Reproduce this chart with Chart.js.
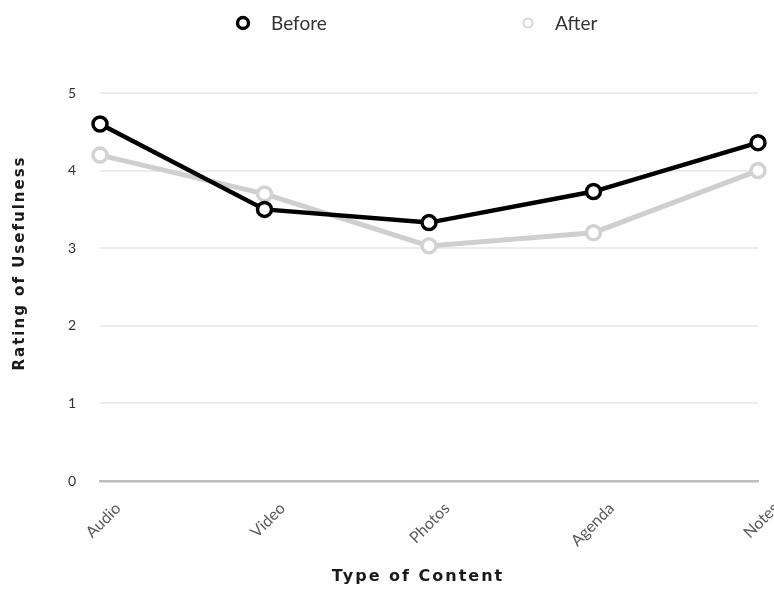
<!DOCTYPE html>
<html>
<head>
<meta charset="utf-8">
<script src="https://cdn.jsdelivr.net/npm/chart.js@4.4.1/dist/chart.umd.min.js"></script>
<style>
  html, body { margin: 0; padding: 0; background: #fff; overflow: hidden; }
  #wrap { width: 774px; height: 590px; position: relative; }
</style>
</head>
<body>
<div id="wrap"><canvas id="chart"></canvas></div>
<script>
// Ratings per content type, before and after
const categories = ['Audio', 'Video', 'Photos', 'Agenda', 'Notes'];
const beforeValues = [4.6, 3.5, 3.33, 3.73, 4.36];
const afterValues = [4.2, 3.7, 3.03, 3.2, 4.0];
const seriesNames = ['Before', 'After'];
const yTickValues = [0, 1, 2, 3, 4, 5];
const xAxisTitle = 'Type of Content';
const yAxisTitle = 'Rating of Usefulness';

const FONT = 'Lato, "DejaVu Sans", sans-serif';
const TITLE_FONT = '"DejaVu Sans", sans-serif';

// Legend row across the top and the two axis titles
const decorations = {
  id: 'decorations',
  afterDraw(chart) {
    const ctx = chart.ctx;
    const legendSpots = [
      { cx: 243, tx: 271, r: 5.5, w: 3.4 },
      { cx: 528, tx: 555, r: 4.5, w: 2.2 }
    ];
    chart.data.datasets.forEach((ds, i) => {
      const s = legendSpots[i];
      ctx.save();
      ctx.beginPath();
      ctx.arc(s.cx, 23, s.r, 0, Math.PI * 2);
      ctx.fillStyle = '#fff';
      ctx.fill();
      ctx.lineWidth = s.w;
      ctx.strokeStyle = i === 0 ? ds.borderColor : '#d8d8d8';
      ctx.stroke();
      ctx.font = '19px ' + FONT;
      ctx.fillStyle = '#333';
      ctx.textBaseline = 'middle';
      ctx.textAlign = 'left';
      ctx.fillText(ds.label, s.tx, 24);
      ctx.restore();
    });

    ctx.save();
    ctx.fillStyle = '#1a1a1a';
    ctx.textAlign = 'center';
    ctx.textBaseline = 'middle';
    ctx.letterSpacing = '2px';
    ctx.font = 'bold 16px ' + TITLE_FONT;
    ctx.fillText(xAxisTitle, 418, 577);
    ctx.translate(20, 263);
    ctx.rotate(-Math.PI / 2);
    ctx.font = 'bold 15px ' + TITLE_FONT;
    ctx.letterSpacing = '2px';
    ctx.fillText(yAxisTitle, 0, 0);
    ctx.restore();
  }
};

new Chart(document.getElementById('chart'), {
  type: 'line',
  data: {
    labels: categories,
    datasets: [
      {
        label: seriesNames[0],
        data: beforeValues,
        borderColor: '#000',
        backgroundColor: '#fff',
        borderWidth: 4.5,
        pointRadius: 7,
        pointBorderWidth: 3.5,
        pointBackgroundColor: '#fff',
        pointBorderColor: '#000',
        tension: 0
      },
      {
        label: seriesNames[1],
        data: afterValues,
        borderColor: '#cfcfcf',
        backgroundColor: '#fff',
        borderWidth: 5,
        pointRadius: 7,
        pointBorderWidth: 3.5,
        pointBackgroundColor: '#fff',
        pointBorderColor: '#d2d2d2',
        tension: 0
      }
    ]
  },
  options: {
    responsive: true,
    maintainAspectRatio: false,
    animation: false,
    layout: { padding: { top: 93, right: 16, bottom: 0, left: 0 } },
    plugins: {
      legend: { display: false },
      tooltip: { enabled: false }
    },
    scales: {
      x: {
        offset: false,
        grid: { display: false, drawTicks: false },
        border: { color: '#bdbdbd', width: 2.5 },
        ticks: {
          maxRotation: 45,
          minRotation: 45,
          labelOffset: 18,
          padding: 18,
          color: '#5a5a5a',
          font: { family: FONT, size: 16 }
        },
        afterFit(scale) {
          // labels may run past the right edge; keep the plot width fixed
          scale.height = 109;
          scale.paddingLeft = 0;
          scale.paddingRight = 0;
        }
      },
      y: {
        min: 0,
        max: 5,
        afterBuildTicks(scale) { scale.ticks = yTickValues.map(v => ({ value: v })); },
        grid: {
          color: '#ececec',
          lineWidth: 2,
          drawTicks: false
        },
        border: { display: false },
        ticks: {
          padding: 24,
          color: '#333',
          font: { family: FONT, size: 14 }
        },
        afterFit(scale) { scale.width = 100; }
      }
    }
  },
  plugins: [decorations]
});
</script>
</body>
</html>
